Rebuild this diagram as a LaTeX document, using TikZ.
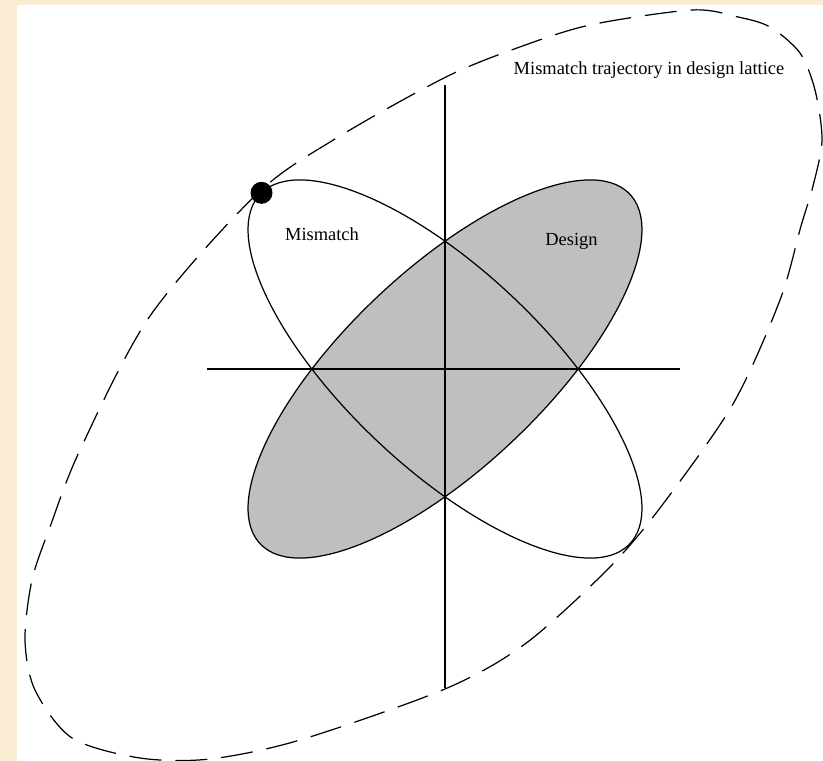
\documentclass[tikz,border=0pt]{standalone}
\usepackage{fontspec}
\setmainfont{Liberation Serif}
\usepackage{xcolor}
\usepackage{tikz}
\definecolor{wheatbg}{RGB}{250,236,210}

\begin{document}
\begin{tikzpicture}[
    lbl/.style={font=\fontsize{10.5}{12}\selectfont, inner sep=0pt},
    axisline/.style={draw=black, line width=0.7pt},
    outline/.style={draw=black, line width=0.7pt},
    lattice/.style={outline, fill=gray!50},
    traj/.style={draw=black, line width=0.7pt, dash pattern=on 0.64cm off 0.28cm},
    tipdot/.style={circle, fill=black, minimum size=4.4mm, inner sep=0pt},
  ]
    \useasboundingbox (-8.9,-7.84) rectangle (7.56,7.38);
    \fill[wheatbg] (-8.9,-7.84) rectangle (7.56,7.38);
    \fill[white] (-8.56,-7.84) rectangle (7.56,7.28);

    % ---------- design and mismatch ellipses ----------
    \draw[lattice, yscale=0.96, rotate=45] (0,0) ellipse (5.19 and 2.02);
    \draw[outline, yscale=0.96, rotate=-45] (0,0) ellipse (5.19 and 2.02);
    \path[yscale=0.96, rotate=-45] (-5.19,0) coordinate (mtip);

    % ---------- axes ----------
    \coordinate (xl) at (-4.76,0);
    \coordinate (xr) at (4.70,0);
    \coordinate (yt) at (0,5.68);
    \coordinate (yb) at (0,-6.38);
    \draw[axisline] (xl) -- (xr);
    \draw[axisline] (yt) -- (yb);

    % ---------- trajectory ----------
    \draw[traj] plot[smooth cycle] coordinates {
      (4.94,7.18) (5.86,7.04) (6.50,6.84) (7.10,6.32) (7.40,5.58) (7.54,4.58)
      (7.36,3.66) (7.12,2.86) (6.70,1.38) (5.76,-0.70) (4.30,-2.78) (3.24,-4.02)
      (1.60,-5.50) (0.00,-6.40) (-2.90,-7.42) (-4.70,-7.80) (-6.10,-7.78)
      (-7.46,-7.38) (-8.20,-6.42) (-8.40,-5.42) (-8.26,-4.22) (-7.90,-3.16)
      (-7.30,-1.62) (-5.90,1.06) (-3.74,3.52) (-2.10,4.66) (0.02,5.84)
      (1.44,6.42) (2.90,6.88)};
    \node[tipdot] (dot) at (mtip) {};

    % ---------- labels ----------
    \node[lbl] (trajlbl) at (4.08,5.98) {Mismatch trajectory in design lattice};
    \node[lbl] (mislbl) at (-2.46,2.70) {Mismatch};
    \node[lbl] (deslbl) at (2.53,2.56) {Design};
  \end{tikzpicture}
\end{document}
